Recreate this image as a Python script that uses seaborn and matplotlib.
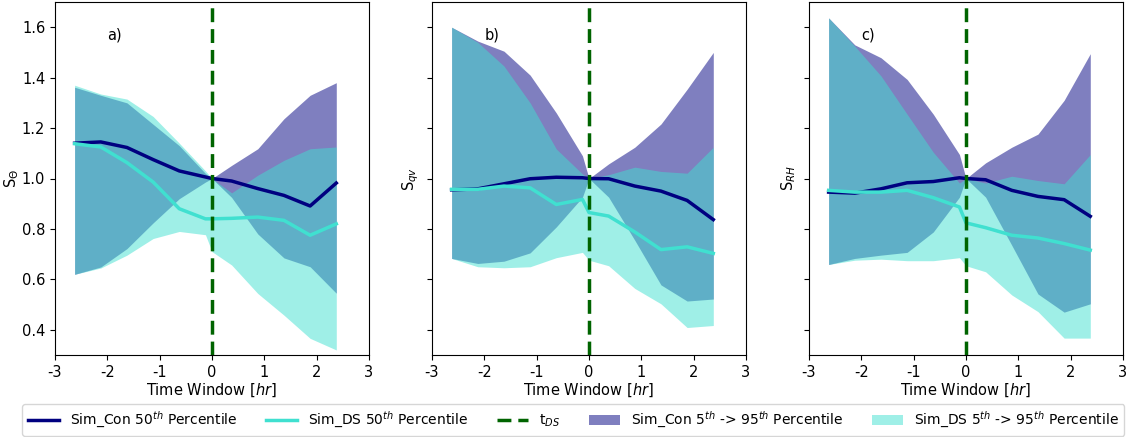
import numpy as np
import pandas as pd
import matplotlib
matplotlib.use("Agg")
import matplotlib.pyplot as plt
from matplotlib.lines import Line2D
from matplotlib.patches import Patch
import seaborn as sns

# time axis (hours)
time_hr = [-2.625, -2.125, -1.625, -1.125, -0.625, -0.125, 0.0, 0.375, 0.875, 1.375, 1.875, 2.375]

# ---- panel a) S_theta ----
a_con_med = [1.14, 1.145, 1.123, 1.075, 1.03, 1.006, 1.0, 0.99, 0.96, 0.933, 0.891, 0.982]
a_ds_med  = [1.138, 1.125, 1.063, 0.986, 0.88, 0.84, 0.84, 0.842, 0.847, 0.834, 0.775, 0.82]
a_con_lo  = [0.62, 0.649, 0.722, 0.824, 0.92, 0.986, 1.0, 0.925, 0.78, 0.685, 0.65, 0.545]
a_con_hi  = [1.362, 1.33, 1.30, 1.215, 1.13, 1.02, 1.0, 1.052, 1.118, 1.237, 1.33, 1.38]
a_ds_lo   = [0.62, 0.645, 0.696, 0.762, 0.79, 0.777, 0.71, 0.657, 0.544, 0.458, 0.366, 0.32]
a_ds_hi   = [1.37, 1.335, 1.315, 1.246, 1.14, 1.03, 1.0, 0.943, 1.013, 1.072, 1.118, 1.125]

# ---- panel b) S_qv ----
b_con_med = [0.955, 0.959, 0.979, 0.999, 1.005, 1.003, 1.0, 0.999, 0.97, 0.95, 0.913, 0.837]
b_ds_med  = [0.957, 0.957, 0.97, 0.963, 0.897, 0.917, 0.865, 0.851, 0.788, 0.718, 0.729, 0.703]
b_con_lo  = [0.683, 0.663, 0.672, 0.705, 0.808, 0.926, 1.0, 0.926, 0.755, 0.578, 0.514, 0.522]
b_con_hi  = [1.60, 1.545, 1.505, 1.41, 1.26, 1.09, 1.0, 1.058, 1.124, 1.216, 1.354, 1.50]
b_ds_lo   = [0.683, 0.65, 0.646, 0.65, 0.686, 0.707, 0.676, 0.654, 0.564, 0.503, 0.409, 0.417]
b_ds_hi   = [1.60, 1.54, 1.446, 1.30, 1.117, 1.018, 1.0, 1.015, 1.045, 1.028, 1.021, 1.124]

# ---- panel c) S_RH ----
c_con_med = [0.946, 0.942, 0.959, 0.983, 0.988, 1.003, 1.0, 0.995, 0.953, 0.929, 0.916, 0.85]
c_ds_med  = [0.953, 0.946, 0.946, 0.953, 0.924, 0.887, 0.824, 0.805, 0.775, 0.764, 0.742, 0.716]
c_con_lo  = [0.659, 0.683, 0.696, 0.707, 0.788, 0.926, 1.0, 0.926, 0.735, 0.542, 0.47, 0.503]
c_con_hi  = [1.637, 1.53, 1.479, 1.393, 1.255, 1.095, 1.0, 1.062, 1.124, 1.176, 1.31, 1.495]
c_ds_lo   = [0.659, 0.676, 0.68, 0.674, 0.674, 0.686, 0.654, 0.63, 0.538, 0.472, 0.367, 0.367]
c_ds_hi   = [1.637, 1.525, 1.407, 1.255, 1.104, 0.982, 1.0, 0.982, 1.009, 0.992, 0.979, 1.095]

panel_labels = ["a)", "b)", "c)"]
y_labels = [r"S$_{\Theta}$", r"S$_{qv}$", r"S$_{RH}$"]
x_label = r"Time Window [$hr$]"
x_ticks = [-3, -2, -1, 0, 1, 2, 3]
y_ticks = [0.4, 0.6, 0.8, 1.0, 1.2, 1.4, 1.6]

legend_labels = [r"Sim_Con 50$^{th}$ Percentile", r"Sim_DS 50$^{th}$ Percentile", r"t$_{DS}$",
                 r"Sim_Con 5$^{th}$ -> 95$^{th}$ Percentile", r"Sim_DS 5$^{th}$ -> 95$^{th}$ Percentile"]

CON = "navy"
DS = "turquoise"
TDS = "darkgreen"

panels = [
    (a_con_med, a_ds_med, a_con_lo, a_con_hi, a_ds_lo, a_ds_hi),
    (b_con_med, b_ds_med, b_con_lo, b_con_hi, b_ds_lo, b_ds_hi),
    (c_con_med, c_ds_med, c_con_lo, c_con_hi, c_ds_lo, c_ds_hi),
]

plt.rcParams['font.family'] = ['DejaVu Sans']
fig = plt.figure(figsize=(11.31, 4.37), dpi=100)
lefts = [55 / 1131, 432 / 1131, 809 / 1131]
w = 314 / 1131
bottom = 1 - 355 / 437
h = 353 / 437

for i, (cm, dm, clo, chi, dlo, dhi) in enumerate(panels):
    ax = fig.add_axes([lefts[i], bottom, w, h])
    ax.fill_between(time_hr, clo, chi, color=CON, alpha=0.5, linewidth=0)
    ax.fill_between(time_hr, dlo, dhi, color=DS, alpha=0.5, linewidth=0)
    df = pd.DataFrame({"t": time_hr, "con": cm, "ds": dm})
    sns.lineplot(data=df, x="t", y="con", color=CON, linewidth=2.5, ax=ax)
    sns.lineplot(data=df, x="t", y="ds", color=DS, linewidth=2.5, ax=ax)
    ax.axvline(0, color=TDS, linestyle="--", linewidth=2.5, dashes=(4, 2))
    ax.set_xlim(-3, 3)
    ax.set_ylim(0.3, 1.7)
    ax.set_xticks(x_ticks)
    ax.set_xticklabels([str(t) for t in x_ticks], fontsize=10.5)
    ax.set_yticks(y_ticks)
    if i == 0:
        ax.set_yticklabels([f"{v:.1f}" for v in y_ticks], fontsize=10.5)
    else:
        ax.set_yticklabels([])
    ax.set_xlabel(x_label, fontsize=10.5, labelpad=1)
    ax.set_ylabel(y_labels[i], fontsize=10.5, labelpad=1)
    ax.text(-2.0, 1.55, panel_labels[i], fontsize=10.5)

handles = [
    Line2D([0], [0], color=CON, linewidth=2.5),
    Line2D([0], [0], color=DS, linewidth=2.5),
    Line2D([0], [0], color=TDS, linewidth=2.5, linestyle="--", dashes=(4, 2)),
    Patch(facecolor=CON, alpha=0.5, edgecolor="none"),
    Patch(facecolor=DS, alpha=0.5, edgecolor="none"),
]
fig.legend(handles, legend_labels, loc="center", bbox_to_anchor=(0.507, 0.039), ncol=5,
           fontsize=10, frameon=True, columnspacing=2.1, handlelength=2.2,
           borderaxespad=0.2)

fig.savefig("out.png", dpi=100)
